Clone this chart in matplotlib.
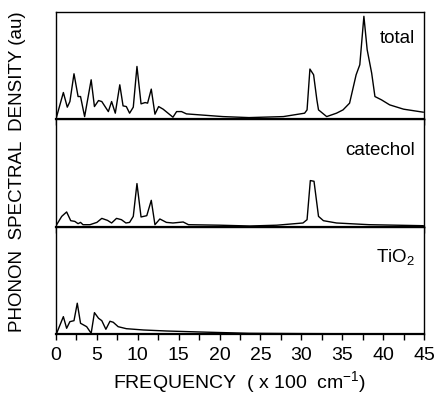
import matplotlib
matplotlib.use("Agg")
import matplotlib.pyplot as plt

plt.rcParams['font.family'] = ['Liberation Sans', 'DejaVu Sans']
plt.rcParams['mathtext.fontset'] = 'custom'
plt.rcParams['mathtext.rm'] = 'Liberation Sans'
plt.rcParams['mathtext.it'] = 'Liberation Sans:italic'
plt.rcParams['mathtext.default'] = 'regular'

# total
f_total = [0.08, 0.9, 1.38, 1.7, 2.2, 2.7, 3.0, 3.5, 4.3, 4.7, 5.2, 5.6, 6.4, 6.8,
           7.25, 7.8, 8.2, 8.6, 9.0, 9.45, 9.9, 10.4, 10.9, 11.2, 11.65, 12.1, 12.55,
           13.1, 14.3, 14.75, 15.35, 15.95, 17.6, 20.4, 23.6, 27.8, 30.4, 30.7, 31.05,
           31.5, 31.9, 32.1, 33.1, 34.3, 35.1, 35.9, 36.7, 37.15, 37.65, 38.05, 38.6,
           39.0, 39.8, 40.8, 42.5, 44.9]
d_total = [2.8, 26.8, 12.2, 17.8, 45.5, 22.8, 22.8, 2.8, 39.5, 12.8, 18.8, 17.8, 7.8,
           17.8, 6.2, 34.5, 13.5, 12.8, 6.2, 12.2, 52.8, 15.5, 16.8, 16.2, 30.2, 5.2,
           12.8, 10.2, 2.2, 7.8, 7.8, 5.5, 4.5, 2.8, 1.8, 2.8, 6.2, 9.5, 50.2, 44.5,
           19.5, 9.5, 2.8, 6.2, 9.5, 16.2, 44.5, 54.5, 102.8, 69.5, 46.2, 22.8, 19.5,
           14.5, 10.2, 7.2]

# catechol
f_cat = [0.08, 0.7, 1.3, 1.8, 2.3, 2.7, 3.0, 3.3, 4.15, 5.0, 5.6, 6.3, 6.8, 7.4, 8.0,
         8.55, 9.0, 9.45, 9.9, 10.4, 11.1, 11.65, 12.1, 12.7, 13.5, 14.3, 15.55, 16.2,
         20.0, 23.7, 27.0, 30.2, 30.7, 31.1, 31.55, 32.1, 32.7, 34.3, 38.3, 44.9]
d_cat = [2.0, 10.3, 14.7, 6.0, 5.3, 3.0, 4.3, 2.0, 2.0, 4.3, 8.3, 6.3, 3.7, 8.3, 7.0,
         3.7, 4.3, 10.3, 43.0, 9.7, 11.0, 26.3, 2.0, 7.7, 4.3, 3.7, 4.7, 2.0, 1.5, 0.7,
         1.5, 3.7, 7.0, 46.0, 45.3, 10.3, 6.0, 3.7, 2.0, 1.0]

# TiO2
f_tio2 = [0.08, 0.9, 1.3, 1.7, 2.2, 2.6, 3.0, 3.75, 4.3, 4.7, 5.2, 5.6, 6.1, 6.6, 7.0,
          7.6, 8.6, 10.7, 13.5, 17.6, 23.6, 30.0, 38.0, 44.9]
d_tio2 = [0.7, 17.3, 5.7, 12.3, 13.3, 30.7, 10.7, 7.3, 0.7, 21.3, 15.7, 13.3, 4.7, 12.7,
          11.7, 7.3, 5.3, 4.0, 3.0, 2.0, 0.7, 0.4, 0.2, 0.1]

panels = [(f_total, d_total, 'total', 0.71),
          (f_cat, d_cat, 'catechol', 0.67),
          (f_tio2, d_tio2, 'TiO$_2$', 0.67)]

fig = plt.figure(figsize=(4.38, 3.96), dpi=100)
left, width = 56 / 438, 368 / 438
h = 107.3 / 396
bottom0 = 62 / 396

axes = []
for i, (f, d, name, ty) in enumerate(panels):
    ax = fig.add_axes([left, bottom0 + (2 - i) * h, width, h])
    ax.plot(f, d, color='black', lw=1.0)
    ax.set_xlim(0, 45)
    ax.set_ylim(0, 107)
    ax.set_yticks([])
    ax.set_xticks(range(0, 46, 5))
    ax.set_xticks([x + 2.5 for x in range(0, 45, 5)], minor=True)
    ax.tick_params(axis='x', which='both', direction='out', length=4.5,
                   width=1.0, labelsize=14, pad=4.5)
    for s in ax.spines.values():
        s.set_linewidth(1.0)
    ax.spines['bottom'].set_linewidth(1.6)
    ax.text(0.976, ty, name, transform=ax.transAxes, ha='right',
            va='baseline', fontsize=13.5)
    if i < 2:
        ax.tick_params(axis='x', labelbottom=False)
    axes.append(ax)

axes[-1].set_xlabel('FREQUENCY  ( x 100  cm$^{-1}$)', fontsize=14, labelpad=4)
fig.text(18 / 438, 1 - 172 / 396, 'PHONON  SPECTRAL  DENSITY (au)', rotation=90,
         ha='center', va='center', fontsize=13.5)

fig.savefig('out.png', dpi=100)
